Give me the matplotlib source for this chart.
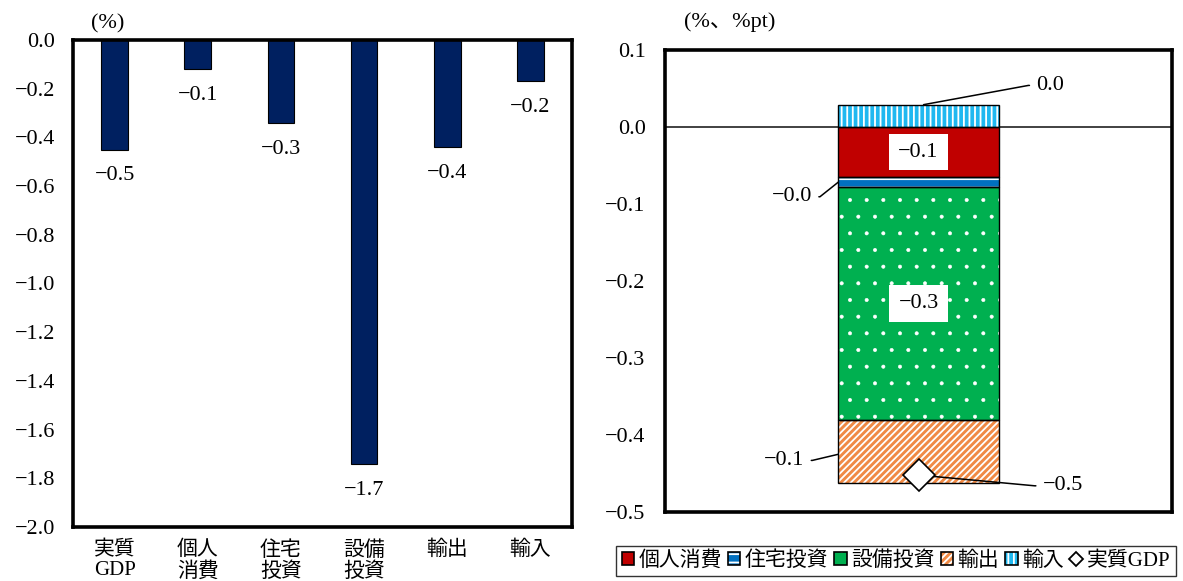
import matplotlib
matplotlib.use("Agg")
import matplotlib.pyplot as plt
from matplotlib.patches import Patch
from matplotlib.lines import Line2D

plt.rcParams['font.family'] = ['Liberation Serif', 'Noto Sans CJK JP']
plt.rcParams['font.size'] = 16
plt.rcParams['hatch.linewidth'] = 1.3
plt.rcParams['axes.unicode_minus'] = True

'''left panel data: growth rates (%)'''
left_labels = ["実質\nGDP", "個人\n消費", "住宅\n投資", "設備\n投資", "輸出", "輸入"]
left_values = [-0.45, -0.12, -0.34, -1.74, -0.44, -0.17]
left_ticks = [0.0, -0.2, -0.4, -0.6, -0.8, -1.0, -1.2, -1.4, -1.6, -1.8, -2.0]

'''right panel data: contributions (%pt)'''
comp_names = ["個人消費", "住宅投資", "設備投資", "輸出", "輸入"]
comp_values = [-0.065, -0.013, -0.302, -0.082, 0.029]
comp_colors = ["#C00000", "#0070C0", "#00B050", "#F08A45", "#1FB8F0"]
comp_hatch = [None, "--", ".", "/////", "|||"]
comp_hatch_lw = [1.0, 1.3, 0.4, 1.3, 1.3]
gdp_name = "実質GDP"
gdp_value = -0.452
right_ticks = [0.1, 0.0, -0.1, -0.2, -0.3, -0.4, -0.5]

CJK_SIZE = 15


def fmt(v):
    return f"{v:.1f}".replace("-", "\u2212")


fig = plt.figure(figsize=(11.83, 5.81), dpi=100)
ax1 = fig.add_axes([73 / 1183, 1 - 527 / 581, 499 / 1183, 487 / 581])
ax2 = fig.add_axes([665 / 1183, 1 - 512 / 581, 507 / 1183, 462 / 581])

'''left: bars'''
x = range(len(left_values))
ax1.bar(x, left_values, width=0.32, color="#002060", edgecolor="black", linewidth=0.8)
for i, v in enumerate(left_values):
    ax1.annotate(fmt(v), (i, v), xytext=(0, -19), textcoords="offset points",
                 ha="center", va="center")
ax1.set_xlim(-0.5, len(left_values) - 0.5)
ax1.set_ylim(-2.0, 0.0)
ax1.set_yticks(left_ticks)
ax1.set_yticklabels([fmt(t) for t in left_ticks])
ax1.set_xticks(list(x))
ax1.set_xticklabels(left_labels, linespacing=1.1, fontsize=CJK_SIZE)
ax1.tick_params(axis="y", length=0, pad=13)
ax1.tick_params(axis="x", length=0, pad=10)
for s in ax1.spines.values():
    s.set_linewidth(2.6)
fig.text(108 / 1183, 1 - 24 / 581, "(%)", ha="center", va="center")

'''right: stacked contributions'''
bar_w = 0.316
pos_base, neg_base = 0.0, 0.0
handles = []
bottoms = []
for name, v, c, h, hlw in zip(comp_names, comp_values, comp_colors, comp_hatch, comp_hatch_lw):
    if v >= 0:
        b = pos_base
        pos_base += v
    else:
        b = neg_base
        neg_base += v
    bottoms.append(b)
    with plt.rc_context({'hatch.linewidth': hlw}):
        ax2.bar(0, v, bottom=b, width=bar_w, color=c, hatch=h, edgecolor="white", linewidth=0, zorder=2)
        fill_handle = Patch(facecolor=c, hatch=h, edgecolor="white", linewidth=0)
    ax2.bar(0, v, bottom=b, width=bar_w, fill=False, edgecolor="black", linewidth=1.0, zorder=3)
    handles.append((fill_handle, Patch(fill=False, edgecolor="black", linewidth=1.2)))

ax2.axhline(0, color="#333333", linewidth=1.3, zorder=1)
ax2.plot(0, gdp_value, marker="D", markersize=16, markerfacecolor="white",
         markeredgecolor="black", markeredgewidth=1.2, linestyle="none", zorder=5)
handles.append(Line2D([], [], marker="D", markersize=7, markerfacecolor="white",
                      markeredgecolor="black", markeredgewidth=1.3, linestyle="none"))

# boxed labels inside the large segments
box = dict(boxstyle="square,pad=0.4", facecolor="white", edgecolor="none")
for i in (0, 2):
    ax2.text(0, bottoms[i] + comp_values[i] / 2, fmt(comp_values[i]), ha="center",
             va="center", bbox=box, zorder=6)

# leader-line labels
leader = dict(arrowstyle="-", color="black", linewidth=1.1, shrinkA=3, shrinkB=0)
right_conn = "arc,angleA=180,armA=8,angleB=0,armB=0,rad=0"
left_conn = "arc,angleA=0,armA=8,angleB=0,armB=0,rad=0"
ax2.annotate(fmt(comp_values[4]), (0.01, comp_values[4]), xytext=(0.26, 0.054),
             ha="center", va="center", zorder=6,
             arrowprops=dict(leader, connectionstyle=right_conn, relpos=(0, 0.5)))
ax2.annotate(fmt(comp_values[1]), (-bar_w / 2, bottoms[1] + comp_values[1] / 2),
             xytext=(-0.25, -0.0906), ha="center", va="center", zorder=6,
             arrowprops=dict(leader, connectionstyle=left_conn, relpos=(1, 0.5)))
ax2.annotate(fmt(comp_values[3]), (-bar_w / 2, -0.425), xytext=(-0.265, -0.433),
             ha="center", va="center", zorder=6,
             arrowprops=dict(leader, connectionstyle=left_conn, relpos=(1, 0.5)))
ax2.annotate(fmt(gdp_value), (0, gdp_value), xytext=(0.285, -0.466),
             ha="center", va="center", zorder=4,
             arrowprops=dict(leader, connectionstyle=right_conn, relpos=(0, 0.5)))

ax2.set_xlim(-0.5, 0.5)
ax2.set_ylim(-0.5, 0.1)
ax2.set_xticks([])
ax2.set_yticks(right_ticks)
ax2.set_yticklabels([fmt(t) for t in right_ticks])
ax2.tick_params(axis="y", length=0, pad=14)
for s in ax2.spines.values():
    s.set_linewidth(2.6)
fig.text(730 / 1183, 1 - 22 / 581, "(%、%pt)", ha="center", va="center")

leg = fig.legend(handles, comp_names + [gdp_name], loc="center",
                 bbox_to_anchor=(896 / 1183, 1 - 561 / 581), ncol=6,
                 handlelength=0.6, handleheight=0.6, handletextpad=0.2,
                 columnspacing=0.3, borderpad=0.25, borderaxespad=0,
                 fancybox=False, frameon=True, fontsize=15)
leg.get_frame().set_edgecolor("black")
leg.get_frame().set_linewidth(1.0)

fig.savefig("out.png", dpi=100)
